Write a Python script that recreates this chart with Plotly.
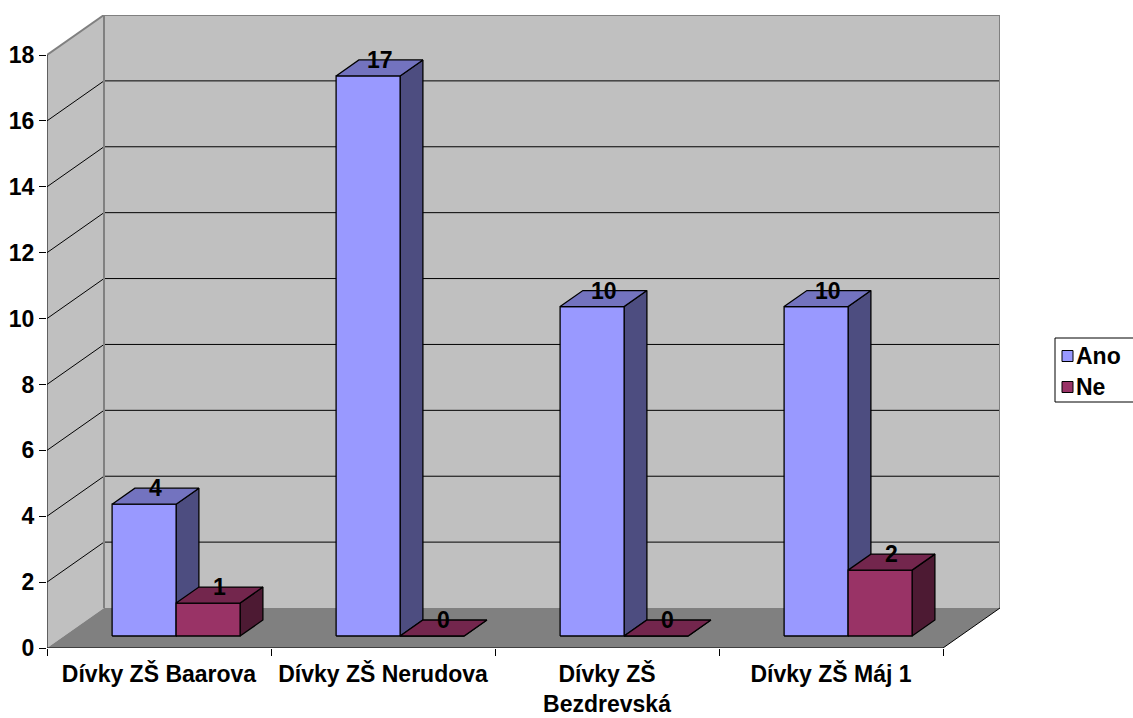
import plotly.graph_objects as go

# ---------------- data ----------------
categories = ["Dívky ZŠ Baarova", "Dívky ZŠ Nerudova", "Dívky ZŠ<br>Bezdrevská", "Dívky ZŠ Máj 1"]
series_names = ["Ano", "Ne"]
ano_values = [4, 17, 10, 10]
ne_values = [1, 0, 0, 2]
y_tick_values = [0, 2, 4, 6, 8, 10, 12, 14, 16, 18]

# ---------------- style / geometry ----------------
W, H = 1133, 718
M_L, M_R, M_T, M_B = 47, 133, 15, 70
Y_MAX = 18
DEPTH_PX_X, DEPTH_PX_Y = 57, 40
FONT = "Liberation Sans, Arial, sans-serif"
FS = 23

front_colors = ["#9999FF", "#993366"]
top_colors = ["#7373BF", "#73264D"]
side_colors = ["#4D4D80", "#4D1A33"]

n = len(categories)
plot_w = W - M_L - M_R
plot_h = H - M_T - M_B
px_x = (plot_w - DEPTH_PX_X) / n
dx = DEPTH_PX_X / px_x
px_y = (plot_h - DEPTH_PX_Y) / Y_MAX
dy = DEPTH_PX_Y / px_y

bar_w = 1 / 3.5
gap = 0.75 * bar_w
d_front, d_back = 0.3, 0.7

fig = go.Figure()

# ---------------- walls and floor ----------------
shapes = []


def path(points):
    return "M " + " L ".join(f"{x},{y}" for x, y in points) + " Z"


# back wall
shapes.append(dict(type="path", xref="x", yref="y", layer="below",
                   path=path([(dx, dy), (dx, Y_MAX + dy), (n + dx, Y_MAX + dy), (n + dx, dy)]),
                   fillcolor="#C0C0C0", line=dict(width=0)))
# left wall
shapes.append(dict(type="path", xref="x", yref="y", layer="below",
                   path=path([(0, 0), (0, Y_MAX), (dx, Y_MAX + dy), (dx, dy)]),
                   fillcolor="#C0C0C0", line=dict(width=0)))
# floor
shapes.append(dict(type="path", xref="x", yref="y", layer="below",
                   path=path([(0, 0), (n, 0), (n + dx, dy), (dx, dy)]),
                   fillcolor="#808080", line=dict(width=0)))
# gridlines
for v in y_tick_values:
    if v == 0 or v == Y_MAX:
        continue
    shapes.append(dict(type="line", xref="x", yref="y", layer="below",
                       x0=0, y0=v, x1=dx, y1=v + dy, line=dict(color="black", width=1)))
    shapes.append(dict(type="line", xref="x", yref="y", layer="below",
                       x0=dx, y0=v + dy, x1=n + dx, y1=v + dy, line=dict(color="black", width=1)))
# wall borders (gray)
gray_edges = [
    ((0, Y_MAX), (dx, Y_MAX + dy)),
    ((dx, Y_MAX + dy), (n + dx, Y_MAX + dy)),
    ((dx, dy), (dx, Y_MAX + dy)),
    ((n + dx, dy), (n + dx, Y_MAX + dy)),
]
for (x0, y0), (x1, y1) in gray_edges:
    shapes.append(dict(type="line", xref="x", yref="y", layer="below",
                       x0=x0, y0=y0, x1=x1, y1=y1, line=dict(color="#808080", width=2)))
# front axes (black)
black_edges = [
    ((0, 0), (0, Y_MAX)),
    ((0, 0), (n, 0)),
    ((n, 0), (n + dx, dy)),
]
for (x0, y0), (x1, y1) in black_edges:
    shapes.append(dict(type="line", xref="x", yref="y", layer="below",
                       x0=x0, y0=y0, x1=x1, y1=y1, line=dict(color="black", width=1)))

# ---------------- 3D bars ----------------
annotations = []
series_values = [ano_values, ne_values]
for i in range(n):
    for k, values in enumerate(series_values):
        v = values[i]
        x0 = i + gap + k * bar_w
        x1 = x0 + bar_w
        fx, fy = d_front * dx, d_front * dy
        bx, by = d_back * dx, d_back * dy
        faces = [
            ([x1 + fx, x1 + bx, x1 + bx, x1 + fx], [fy, by, v + by, v + fy], side_colors[k]),
            ([x0 + fx, x1 + fx, x1 + fx, x0 + fx], [fy, fy, v + fy, v + fy], front_colors[k]),
            ([x0 + fx, x1 + fx, x1 + bx, x0 + bx], [v + fy, v + fy, v + by, v + by], top_colors[k]),
        ]
        for xs, ys, col in faces:
            fig.add_trace(go.Scatter(
                x=xs + [xs[0]], y=ys + [ys[0]], mode="lines", fill="toself",
                fillcolor=col, line=dict(color="black", width=1.3),
                showlegend=False, hoverinfo="skip"))
        annotations.append(dict(
            x=(x0 + x1) / 2 + 0.5 * (d_front + d_back) * dx, y=v + by,
            xref="x", yref="y", text=str(v), showarrow=False,
            font=dict(family=FONT, size=FS, color="black", weight="bold"),
            xanchor="center", yanchor="middle"))

# ---------------- manual legend ----------------
def paper_x(px):
    return (px - M_L) / plot_w


def paper_y(py):
    return (H - M_B - py) / plot_h


shapes.append(dict(type="rect", xref="paper", yref="paper", layer="above",
                   x0=paper_x(1055), x1=paper_x(1145), y0=paper_y(402), y1=paper_y(338),
                   fillcolor="white", line=dict(color="black", width=1)))
legend_rows = [356, 387]
for k, name in enumerate(series_names):
    cy = legend_rows[k]
    shapes.append(dict(type="rect", xref="paper", yref="paper", layer="above",
                       x0=paper_x(1062), x1=paper_x(1073), y0=paper_y(cy + 5.5), y1=paper_y(cy - 5.5),
                       fillcolor=front_colors[k], line=dict(color="black", width=1)))
    annotations.append(dict(x=paper_x(1074), y=paper_y(cy), xref="paper", yref="paper",
                            text=name, showarrow=False, xanchor="left", yanchor="middle",
                            font=dict(family=FONT, size=FS, color="black", weight="bold")))

fig.update_layout(
    width=W, height=H,
    margin=dict(l=M_L, r=M_R, t=M_T, b=M_B, autoexpand=False),
    paper_bgcolor="white", plot_bgcolor="white",
    showlegend=False,
    shapes=shapes, annotations=annotations,
    font=dict(family=FONT, size=FS, color="black"),
)
fig.update_xaxes(
    range=[0, n + dx], showgrid=False, zeroline=False, showline=False,
    tickmode="array", tickvals=[i + 0.5 for i in range(n)], ticktext=categories,
    ticks="", ticklabelstandoff=10,
    tickfont=dict(family=FONT, size=FS, color="black", weight="bold"),
    minor=dict(tickmode="array", tickvals=list(range(n + 1)), ticks="outside",
               ticklen=7, tickcolor="black", tickwidth=1, showgrid=False),
    fixedrange=True,
)
fig.update_yaxes(
    range=[0, Y_MAX + dy], showgrid=False, zeroline=False, showline=False,
    tickmode="array", tickvals=y_tick_values, ticks="outside", ticklen=7,
    tickcolor="black", tickwidth=1,
    tickfont=dict(family=FONT, size=FS, color="black", weight="bold"),
    fixedrange=True,
)

fig.write_html("out.html", config={"displayModeBar": False},
               post_script="document.body.style.margin='0px';document.body.style.overflow='hidden';")
